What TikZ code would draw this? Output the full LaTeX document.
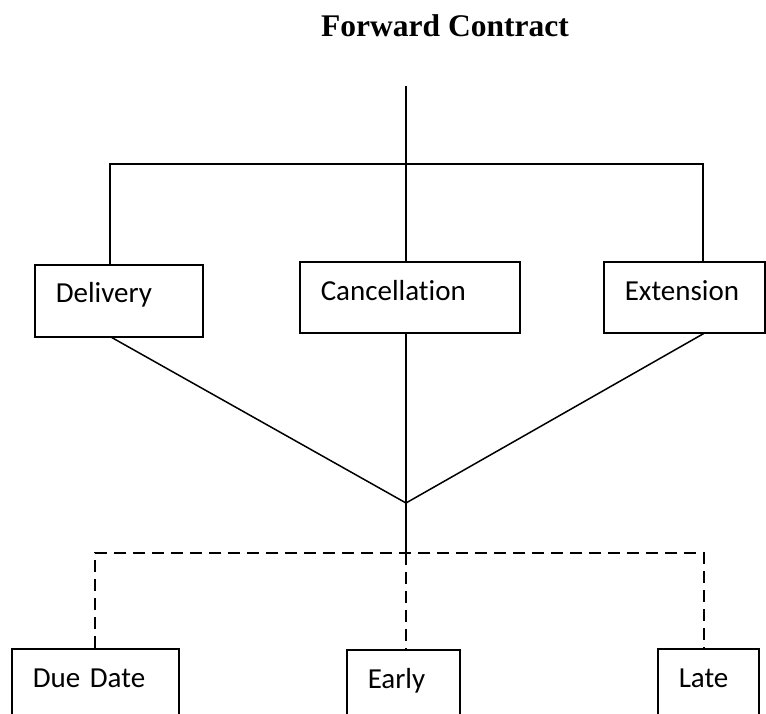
\documentclass[tikz,border=0pt]{standalone}
\usepackage{fontspec}
\usetikzlibrary{positioning,calc}
\newfontfamily\boxfont[Ligatures={NoCommon,NoRare,NoDiscretionary}]{Carlito}
\newfontfamily\headfont{Liberation Serif}

\begin{document}
\begin{tikzpicture}[
    x=1pt, y=-1pt,
    line width=1.5pt,
    every node/.style={inner sep=0pt},
    heading/.style={font=\headfont\bfseries\fontsize{31.5}{38}\selectfont},
    choice/.style={draw, anchor=north west, align=left, font=\boxfont\fontsize{29}{35}\selectfont,
        inner xsep=21pt, inner ysep=0pt, text width=#1, text height=39pt, text depth=32pt},
    outcome/.style={choice=#1, text depth=80pt},
    branch/.style={dash pattern=on 12pt off 7pt}
]
\useasboundingbox (0,0) rectangle (766,713);
\clip (0,0) rectangle (766,713);

% title
\node[heading, anchor=base] (title) at (445,36) {Forward Contract};

% first level
\node[choice=126pt, text height=38pt, text depth=34pt] (Delivery) at (34,264) {Delivery};
\node[choice=178pt] (Cancellation) at (299,261) {Cancellation};
\node[choice=119pt] (Extension) at (603,261) {Extension};

% second level
\node[outcome=125pt] (DueDate) at (11,648) {Due Date};
\node[outcome=71pt] (Early) at (346,649) {Early};
\node[outcome=59pt] (Late) at (657,648) {Late};

% joints
\coordinate (stem) at (406,86);
\coordinate (fork) at (406,164);
\coordinate (join) at (406,503);
\coordinate (split) at (406,553);

% top tree
\draw (stem) -- (Cancellation.north -| stem);
\draw ([xshift=-9pt]Delivery.north) |- (fork) -| ([xshift=18.5pt]Extension.north);

% converge
\draw ([xshift=-7pt]Delivery.south) -- (join);
\draw (Cancellation.south -| join) -- (join);
\draw ([xshift=19.5pt]Extension.south) -- (join);
\draw (join) -- (split);

% dashed branches
\draw[branch] ([xshift=-0.5pt]DueDate.north) |- (split) -| ([xshift=-4.5pt]Late.north);
\draw[branch] (split) -- (split |- Early.north);

\end{tikzpicture}
\end{document}
